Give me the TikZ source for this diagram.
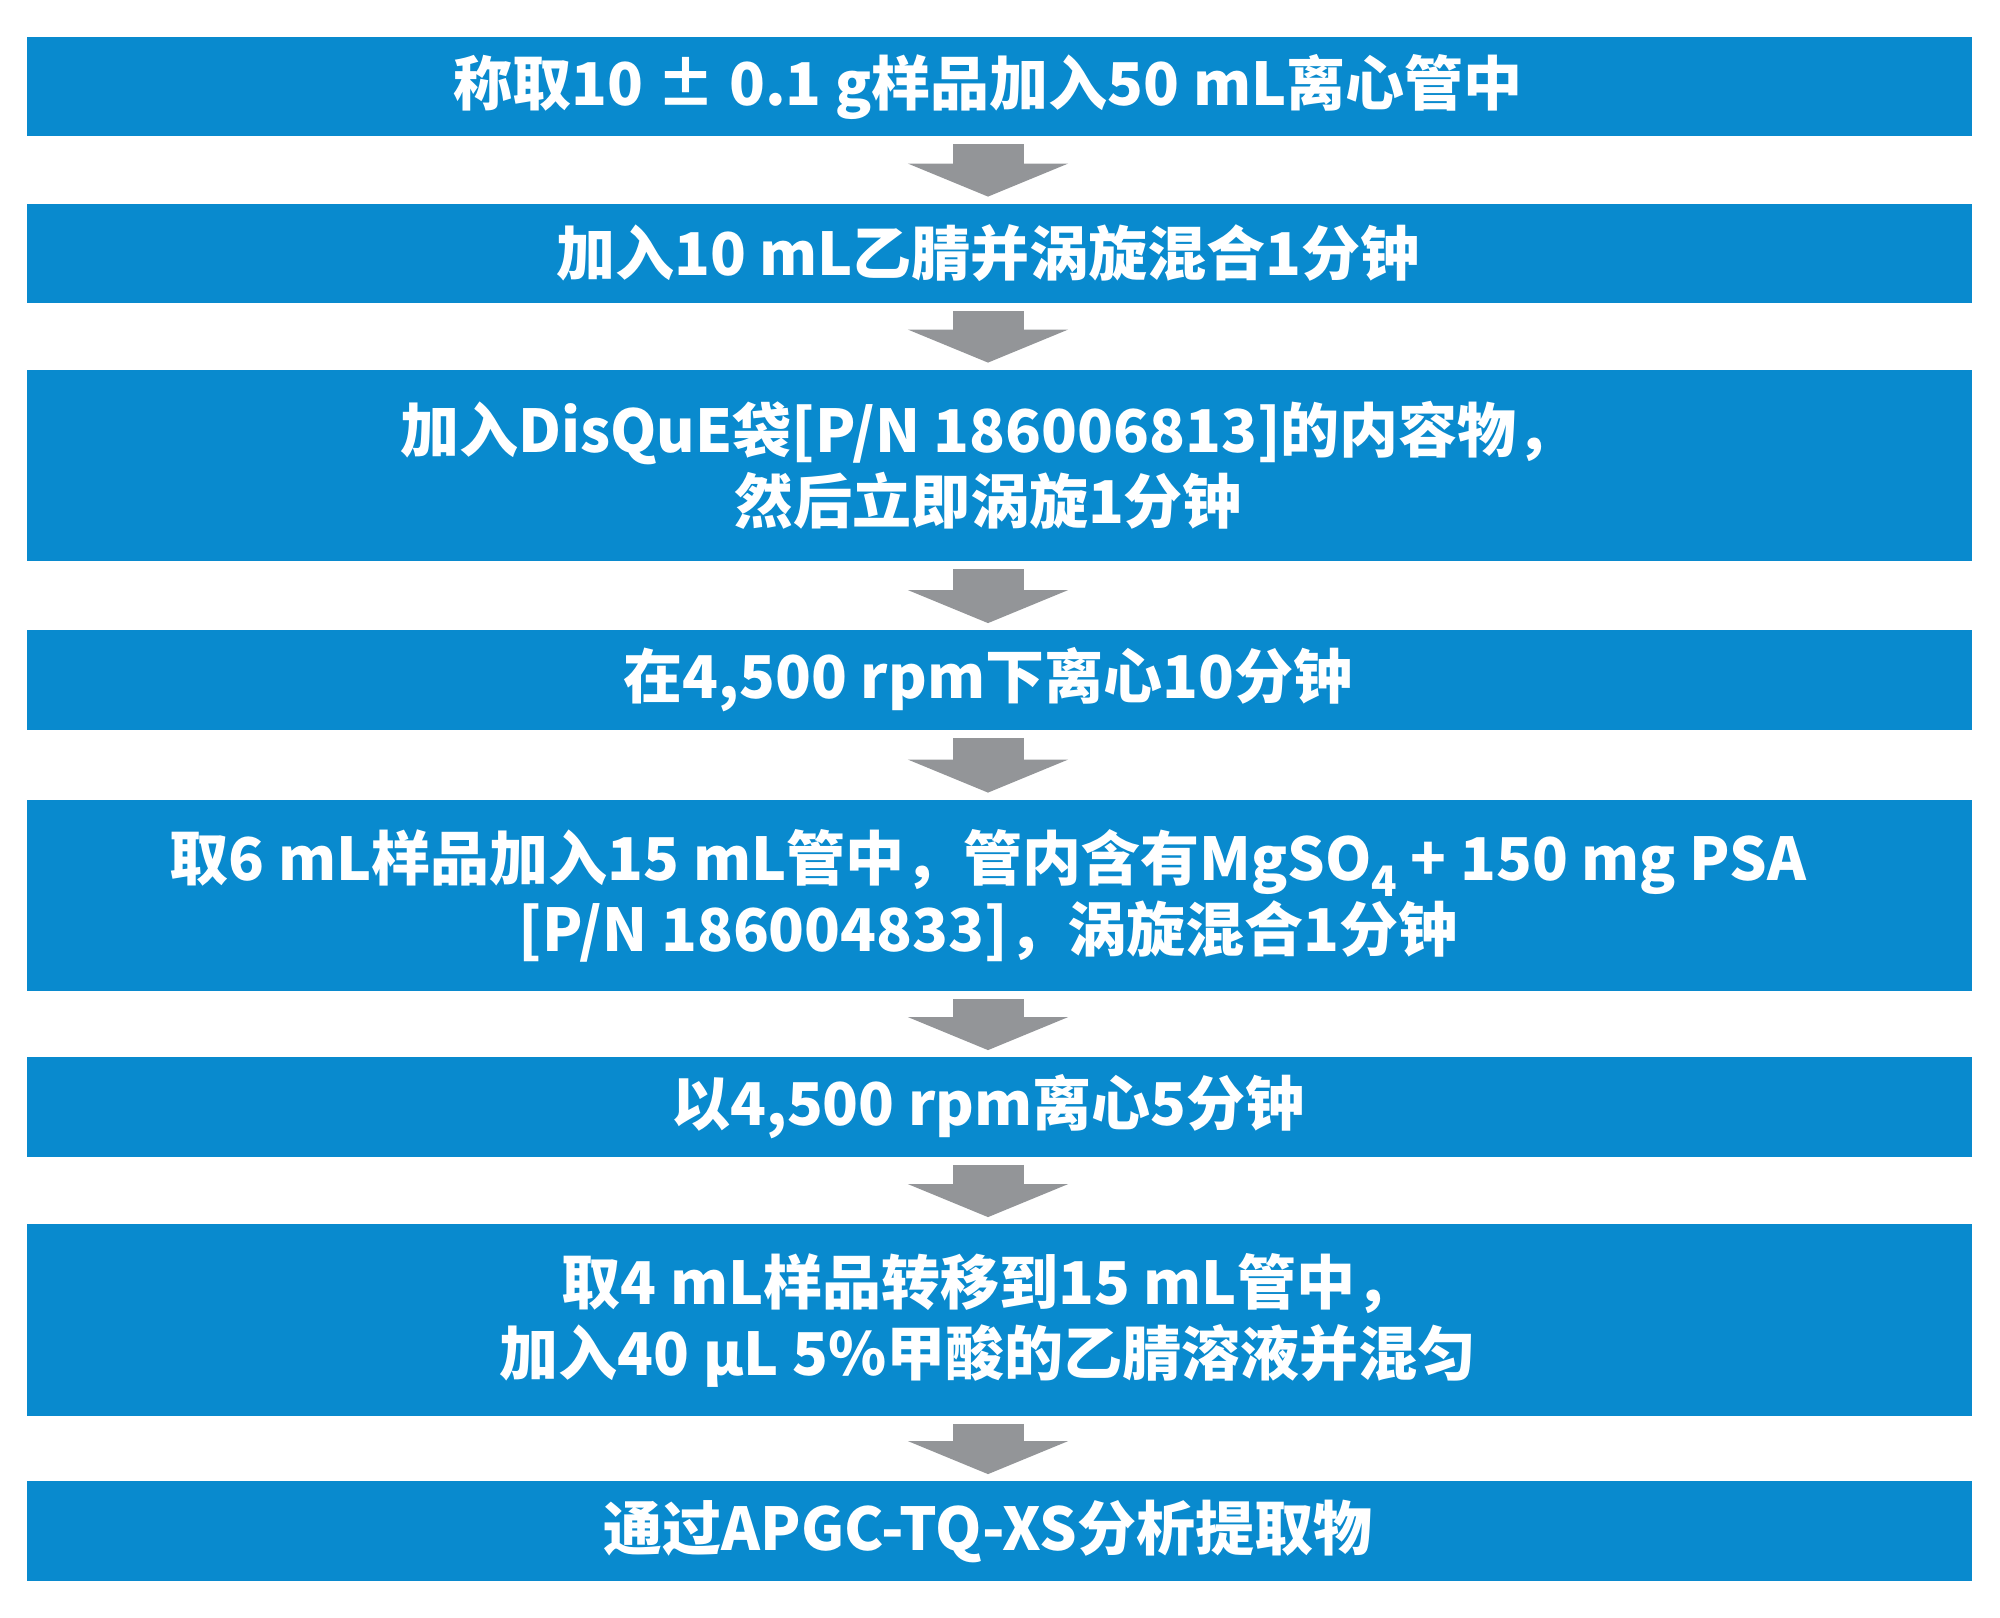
\documentclass[tikz,border=0pt]{standalone}
\usepackage{fontspec}
\usepackage{tikz}
\usetikzlibrary{arrows.meta,backgrounds}
\newfontfamily\cjk{Noto Sans CJK SC}
\definecolor{wblue}{RGB}{9,138,206}
\definecolor{wgray}{RGB}{147,149,152}

\begin{document}
\begin{tikzpicture}[x=0.5pt, y=-0.5pt, txt/.style={text=white, align=center, minimum height=49.5pt, font=\cjk\bfseries\fontsize{29.5pt}{35.5pt}\selectfont}, tall/.style={txt, minimum height=95.5pt}, bar/.style={fill=wblue}, arr/.style={-{Triangle[length=16.5pt, width=79.5pt]}, wgray, line width=35.5pt, shorten <=4pt, shorten >=3.5pt}]
        \useasboundingbox (0,0) rectangle (2000,1617);
        % nodes
        \node[txt] (s1) at (988,86.5) {称取10 ± 0.1 g样品加入50 mL离心管中};
        \node[txt] (s2) at (988,253.5) {加入10 mL乙腈并涡旋混合1分钟};
        \node[tall] (s3) at (988,465.5) {加入DisQuE袋[P/N 186006813]的内容物，\\然后立即涡旋1分钟};
        \node[txt] (s4) at (988,680) {在4,500 rpm下离心10分钟};
        \node[tall] (s5) at (988,895.5) {取6 mL样品加入15 mL管中，管内含有MgSO\raisebox{-0.28em}{\fontsize{21pt}{21pt}\selectfont 4} + 150 mg PSA\\{}[P/N 186004833]，涡旋混合1分钟};
        \node[txt] (s6) at (988,1107) {以4,500 rpm离心5分钟};
        \node[tall] (s7) at (988,1320) {取4 mL样品转移到15 mL管中，\\加入40 µL 5\%甲酸的乙腈溶液并混匀};
        \node[txt] (s8) at (988,1531) {通过APGC-TQ-XS分析提取物};
        % bars
        \coordinate (L) at (27,0);
        \coordinate (R) at (1972,0);
        \begin{scope}[on background layer]
        \fill[bar] (s1.north -| L) rectangle (s1.south -| R);
        \fill[bar] (s2.north -| L) rectangle (s2.south -| R);
        \fill[bar] (s3.north -| L) rectangle (s3.south -| R);
        \fill[bar] (s4.north -| L) rectangle (s4.south -| R);
        \fill[bar] (s5.north -| L) rectangle (s5.south -| R);
        \fill[bar] (s6.north -| L) rectangle (s6.south -| R);
        \fill[bar] (s7.north -| L) rectangle (s7.south -| R);
        \fill[bar] (s8.north -| L) rectangle (s8.south -| R);
        \end{scope}
        % edges
        \draw[arr] (s1) -- (s2);
        \draw[arr] (s2) -- (s3);
        \draw[arr] (s3) -- (s4);
        \draw[arr] (s4) -- (s5);
        \draw[arr] (s5) -- (s6);
        \draw[arr] (s6) -- (s7);
        \draw[arr] (s7) -- (s8);
\end{tikzpicture}
\end{document}
